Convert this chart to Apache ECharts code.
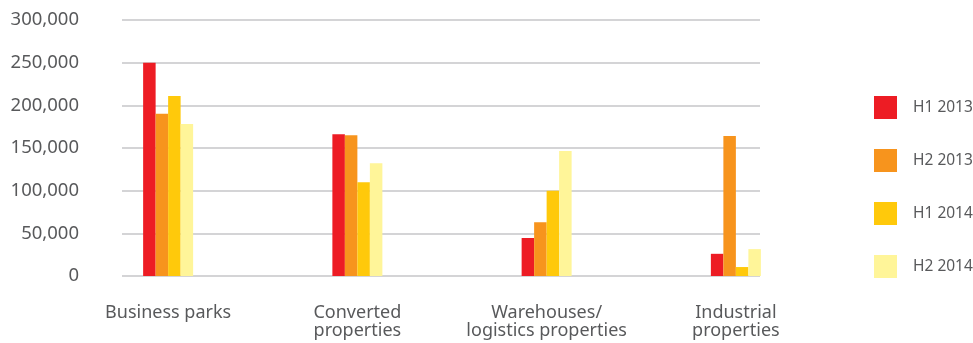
<!DOCTYPE html>
<html>
<head>
<meta charset="utf-8">
<script src="https://cdn.jsdelivr.net/npm/echarts@6/dist/echarts.min.js"></script>
<style>
  html, body { margin: 0; padding: 0; background: #fff; }
  #chart { width: 973px; height: 343px; }
</style>
</head>
<body>
<div id="chart"></div>
<script>
// property types
const categories = ['Business parks', 'Converted\nproperties', 'Warehouses/\nlogistics properties', 'Industrial\nproperties']
const seriesNames = ['H1 2013', 'H2 2013', 'H1 2014', 'H2 2014']
const h1_2013 = [250000, 166000, 44500, 26000]
const h2_2013 = [190000, 165000, 63000, 164000]
const h1_2014 = [211000, 110000, 100000, 10500]
const h2_2014 = [178000, 132000, 146500, 31500]
const colors = ['#ED1C24', '#F7941D', '#FFC90B', '#FFF599']

const chart = echarts.init(document.getElementById('chart'))
const font = '"Noto Sans", sans-serif'
const textColor = '#58595b'

const yBase = {
  min: 0,
  max: 300000,
  interval: 50000
}

const option = {
  animation: false,
  color: colors,
  textStyle: { fontFamily: font },
  legend: {
    orient: 'vertical',
    left: 874,
    top: 96,
    padding: 0,
    itemWidth: 23,
    itemHeight: 23,
    itemGap: 30,
    icon: 'rect',
    data: seriesNames,
    textStyle: { fontSize: 15.5, color: textColor, padding: [0, 0, 0, 11] }
  },
  grid: [
    // gridlines + y labels
    { left: 122, right: 213, top: 20, bottom: 67 },
    // bars + category labels
    { left: 73.5, right: 142.5, top: 20, bottom: 67 }
  ],
  xAxis: [
    { type: 'category', gridIndex: 0, data: categories, show: false },
    {
      type: 'category',
      gridIndex: 1,
      data: categories,
      axisLine: { show: false },
      axisTick: { show: false },
      axisLabel: {
        interval: 0,
        margin: 28,
        fontSize: 18,
        color: textColor,
        lineHeight: 18,
        fontFamily: font
      }
    }
  ],
  yAxis: [
    Object.assign({
      type: 'value',
      gridIndex: 0,
      axisLine: { show: false },
      axisTick: { show: false },
      splitLine: { lineStyle: { color: '#c6c6c9', width: 1.5 } },
      axisLabel: {
        margin: 43,
        fontSize: 18.5,
        color: textColor,
        fontFamily: font,
        formatter: v => v.toLocaleString('en-US')
      }
    }, yBase),
    Object.assign({ type: 'value', gridIndex: 1, show: false, splitLine: { show: false } }, yBase)
  ],
  series: [h1_2013, h2_2013, h1_2014, h2_2014].map((d, i) => ({
    name: seriesNames[i],
    type: 'bar',
    xAxisIndex: 1,
    yAxisIndex: 1,
    barWidth: 12.5,
    barGap: 0,
    data: d
  }))
}

chart.setOption(option)
</script>
</body>
</html>
